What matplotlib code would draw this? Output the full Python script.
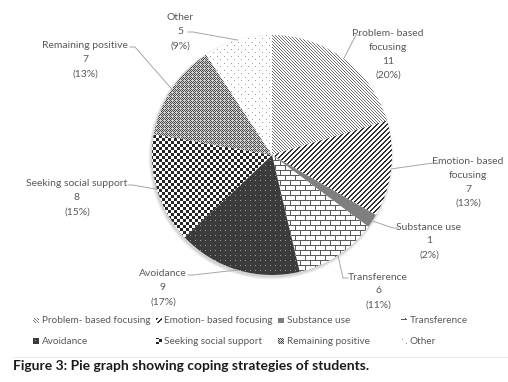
import numpy as np
import matplotlib
matplotlib.use("Agg")
import matplotlib.pyplot as plt
from matplotlib.patches import Rectangle, Circle

plt.rcParams['font.family'] = ['Lato', 'DejaVu Sans']

# --- data ---
categories = ['Problem- based focusing', 'Emotion- based focusing', 'Substance use',
              'Transference', 'Avoidance', 'Seeking social support',
              'Remaining positive', 'Other']
label_lines = [['Problem- based', 'focusing'], ['Emotion- based', 'focusing'],
               ['Substance use'], ['Transference'], ['Avoidance'],
               ['Seeking social support'], ['Remaining positive'], ['Other']]
counts = [11, 7, 1, 6, 9, 8, 7, 5]
caption = 'Figure 3: Pie graph showing coping strategies of students.'

W, H = 508, 382
GRAY_TXT = '#595959'
FS = 7.5

# --- fill textures (pixel patterns, image coords: row from top) ---
yy, xx = np.mgrid[0:H, 0:W]


def two_tone(mask, fg, bg):
    fg = np.array(matplotlib.colors.to_rgb(fg))
    bg = np.array(matplotlib.colors.to_rgb(bg))
    return np.where(mask[..., None], fg, bg)


textures = [
    two_tone(((xx - yy) % 3) == 0, '#6e6e6e', '#ffffff'),                     # problem
    two_tone(((xx + yy) % 5) < 2, '#2e2e2e', '#ffffff'),                      # emotion
    two_tone(np.zeros_like(xx, bool), '#7f7f7f', '#7f7f7f'),                  # substance
    two_tone((yy % 5 == 0) | (((xx + (yy // 5 % 2) * 5) % 10) == 0),
             '#5a5a5a', '#ffffff'),                                           # transference
    two_tone((xx % 5 == 0) & (yy % 5 == 0), '#9a9a9a', '#3b3b3b'),            # avoidance
    two_tone(((xx // 3 + yy // 3) % 2) == 0, '#262626', '#ffffff'),           # seeking
    two_tone((((xx + yy) % 2) == 0) & ~((xx % 4 == 0) & (yy % 4 == 0)),
             '#4a4a4a', '#d2d2d2'),                                           # remaining
    two_tone((((xx % 7) == 0) & ((yy % 7) == 0)) | (((xx % 7) == 3) & ((yy % 7) == 3)),
             '#9c9c9c', '#ffffff'),                                           # other
]

fig = plt.figure(figsize=(W / 100, H / 100), dpi=100)
ax = fig.add_axes([0, 0, 1, 1])

cx, cy, r = 272, H - 155, 120

# soft shadow under the pie
for k in range(5):
    ax.add_patch(Circle((cx - 1, cy - 2), r + 2.5 - k * 0.6, color='#000000',
                        alpha=0.035, lw=0, zorder=0))

wedges, _ = ax.pie(counts, center=(cx, cy), radius=r, startangle=90,
                   counterclock=False, colors=['white'] * len(counts),
                   wedgeprops=dict(linewidth=0))

for w, tex in zip(wedges, textures):
    im = ax.imshow(tex, extent=(0, W, 0, H), origin='upper',
                   interpolation='nearest', zorder=2)
    im.set_clip_path(w)

# --- data labels with leader lines ---
# (text centre x, first-line y in image px, elbow x, side)
label_pos = [(388, 34, 356, 'L'), (468, 162, 433, 'L'), (429, 227, 393, 'L'),
             (378, 277, 343, 'L'), (163, 274, 193, 'R'), (77, 184, 133, 'R'),
             (85, 46, 135, 'R'), (180, 18, 193, 'R')]
total = sum(counts)
cum = np.cumsum([0] + counts)
for i, (tx, ty, ex, side) in enumerate(label_pos):
    lines = label_lines[i] + [str(counts[i]), f'({counts[i] / total:.0%})']
    for j, s in enumerate(lines):
        ax.text(tx, H - (ty + j * 13.8), s, ha='center', va='center',
                fontsize=FS, color=GRAY_TXT)
    mid = np.deg2rad(90 - 360 * (cum[i] + cum[i + 1]) / 2 / total)
    px, py = cx + r * np.cos(mid), cy + r * np.sin(mid)
    if i == 7:
        ly = H - (ty + 14)
    else:
        ly = H - (ty + 1)
    if i == 7:
        end = ex - 5
    else:
        end = ex + 5 if side == 'L' else ex - 5
    ax.plot([px, ex, end], [py, ly, ly], color='#a6a6a6', lw=0.7, zorder=3)

# --- legend (two rows of four) ---
leg_x = [33, 155.5, 278, 401]
leg_y = [320.5, 341]
for i, name in enumerate(categories):
    lx, ly = leg_x[i % 4], H - leg_y[i // 4]
    sq = Rectangle((lx, ly - 3), 6, 6, lw=0)
    ax.add_patch(sq)
    sq.set_visible(False)
    im = ax.imshow(textures[i], extent=(0, W, 0, H), origin='upper',
                   interpolation='nearest', zorder=2)
    im.set_clip_path(sq)
    ax.text(lx + 9, ly, name, ha='left', va='center', fontsize=7.2, color=GRAY_TXT)

# thin rule and caption
ax.plot([13, W], [H - 357, H - 357], color='#e6e6e6', lw=0.6)
ax.text(13, H - 365.5, caption, ha='left', va='center', fontsize=10,
        fontweight='bold', color='#1a1a1a')

ax.set_xlim(0, W)
ax.set_ylim(0, H)
ax.set_aspect('auto')
ax.axis('off')

fig.savefig('out.png', dpi=100)
